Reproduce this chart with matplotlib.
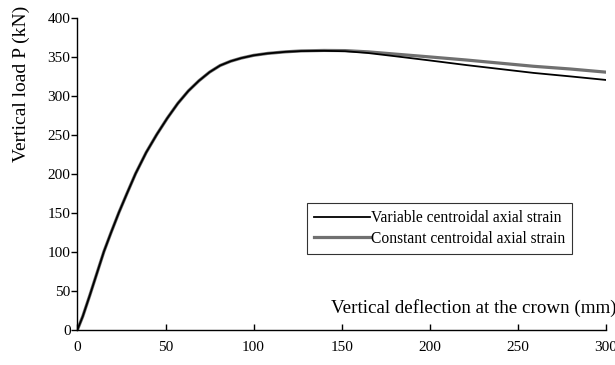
import matplotlib
matplotlib.use('Agg')
import matplotlib.pyplot as plt

# deflection (mm) / load (kN)
x_variable = [0, 3, 7, 11, 15, 19, 23.5, 28, 33, 39, 45, 51, 57, 63, 69, 75, 81, 87,
              93, 100, 108, 118, 127, 140, 152, 165, 180, 200, 221, 240, 259, 280, 300]
y_variable = [0, 17, 44, 72, 100, 124, 150, 174, 200, 227, 250, 271, 290, 306, 319, 330,
              338.5, 344, 348, 351.5, 354, 356, 357, 357.3, 356.8, 354.5, 350.5, 345,
              339, 334, 329, 324.5, 320]

x_constant = [0, 3, 7, 11, 15, 19, 23.5, 28, 33, 39, 45, 51, 57, 63, 69, 75, 81, 87,
              93, 100, 108, 118, 127, 140, 152, 165, 180, 200, 221, 240, 259, 280, 300]
y_constant = [0, 17, 44, 72, 100, 124, 150, 174, 200, 227, 250, 271, 290, 306, 319, 330,
              338.5, 344, 348, 351.5, 354, 356, 357.2, 357.8, 357.6, 356, 353.2, 349.5,
              345.5, 341.5, 337.5, 334, 330]

x_ticks = [0, 50, 100, 150, 200, 250, 300]
y_ticks = [0, 50, 100, 150, 200, 250, 300, 350, 400]

plt.rcParams['font.family'] = ['Liberation Serif', 'DejaVu Serif']

fig = plt.figure(figsize=(6.15, 3.65), dpi=100)
ax = fig.add_axes([0.126, 0.097, 0.859, 0.855])

ax.plot(x_constant, y_constant, color='#707070', lw=2.3, zorder=2,
        solid_joinstyle='round', label='Constant centroidal axial strain')
ax.plot(x_variable, y_variable, color='black', lw=1.3, zorder=3,
        solid_joinstyle='round', label='Variable centroidal axial strain')

ax.set_xlim(0, 300)
ax.set_ylim(0, 400)
ax.set_xticks(x_ticks)
ax.set_yticks(y_ticks)
ax.spines['top'].set_visible(False)
ax.spines['right'].set_visible(False)
ax.spines['left'].set_linewidth(1.0)
ax.spines['bottom'].set_linewidth(1.0)
ax.tick_params(axis='y', direction='out', length=4, width=1, labelsize=11, pad=1)
ax.tick_params(axis='x', direction='in', length=4, width=1, labelsize=11, pad=8)

ax.text(1.02, 0.07, 'Vertical deflection at the crown (mm)', transform=ax.transAxes,
        ha='right', va='center', fontsize=13.7, clip_on=False)
fig.text(0.035, 0.985, 'Vertical load P (kN)', rotation=90, ha='center', va='top',
         fontsize=14)

handles, labels = ax.get_legend_handles_labels()
leg = ax.legend(handles[::-1], labels[::-1], loc='upper left',
                bbox_to_anchor=(0.434, 0.405), fontsize=11.2, frameon=True,
                fancybox=False, handlelength=3.6, handletextpad=0.05,
                borderpad=0.45, labelspacing=0.3, borderaxespad=0)
leg.get_frame().set_edgecolor('black')
leg.get_frame().set_linewidth(0.8)

fig.savefig('out.png', dpi=100, facecolor='white')
